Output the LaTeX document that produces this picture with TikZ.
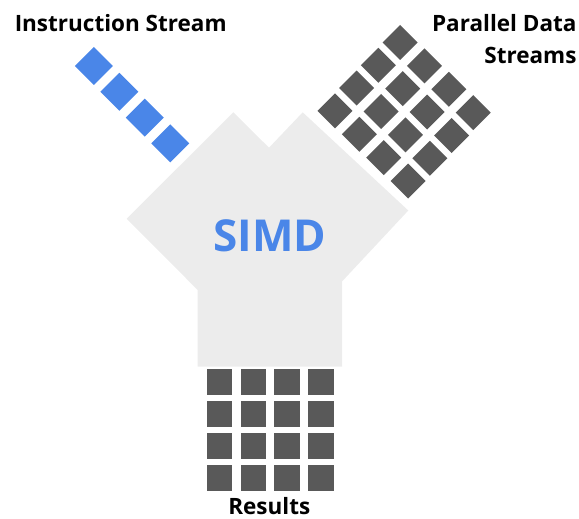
\documentclass[tikz,border=0pt]{standalone}
\usepackage{fontspec}
\setmainfont{Open Sans}
\definecolor{simdblue}{RGB}{74,134,232}
\definecolor{cellgray}{RGB}{89,89,89}
\definecolor{bodygray}{RGB}{236,236,236}
\begin{document}
\begin{tikzpicture}[x=1pt,y=-1pt,
  lbl/.style={font=\bfseries\fontsize{22.5}{26}\selectfont, inner sep=0pt, text=black},
  simdlbl/.style={font=\bfseries\fontsize{44}{52}\selectfont, inner sep=0pt, text=simdblue},
  bluecell/.style={fill=simdblue},
  darkcell/.style={fill=cellgray}]
\useasboundingbox (0,0) rectangle (579,519);
% body
\fill[bodygray] (233.3,112.3) -- (269,147.7) -- (302.7,112.3) -- (408.3,210.5)
  -- (342,281.5) -- (342,366.7) -- (197.7,366.7) -- (197.7,290) -- (126.7,218.7) -- cycle;
\node[simdlbl, anchor=base] (simd) at (269.7,251) {SIMD};
% instruction stream
\foreach \k in {0,...,3}
  \fill[bluecell, shift={({93.8+25.5*\k},{66+25.8*\k})}] (0,-19) -- (19,0) -- (0,19) -- (-19,0) -- cycle;
% parallel data streams
\foreach \i in {0,...,3}
  \foreach \j in {0,...,3}
    \fill[darkcell, shift={({400+24.4*\i-21.7*\j},{42.5+23.4*\i+22.8*\j})}] (0,-17.5) -- (17.5,0) -- (0,17.5) -- (-17.5,0) -- cycle;
% results
\foreach \i in {0,...,3}
  \foreach \j in {0,...,3}
    \fill[darkcell] ({206.7+33.8*\i},{369.3+31.9*\j}) rectangle +(25.6,25.6);
% labels
\node[lbl, anchor=base] (instr) at (120.7,31.7) {Instruction Stream};
\node[lbl, anchor=base east] (pd1) at (576.7,31.7) {Parallel Data};
\node[lbl, anchor=base east] (pd2) at (576.7,64) {Streams};
\node[lbl, anchor=base] (res) at (269.3,514) {Results};
\end{tikzpicture}
\end{document}
